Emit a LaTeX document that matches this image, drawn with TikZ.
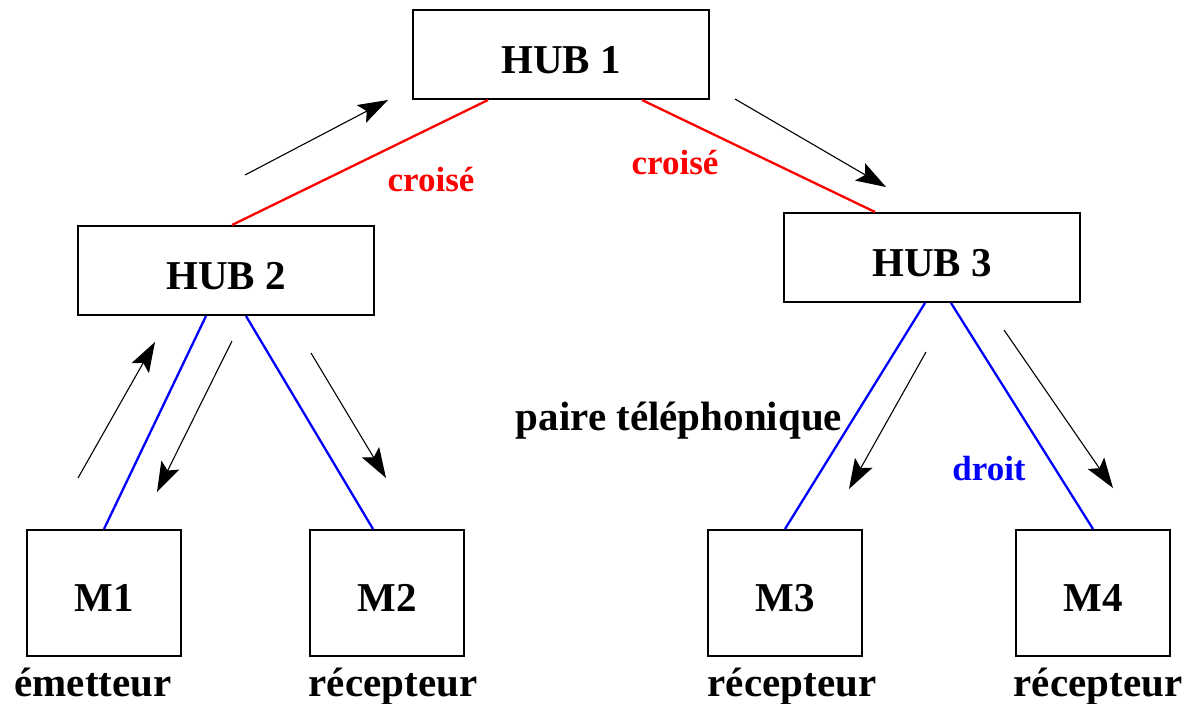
\documentclass[tikz,border=0pt]{standalone}
\usepackage{fontspec}
\setmainfont{Liberation Serif}
\usetikzlibrary{arrows.meta}
\begin{document}
\begin{tikzpicture}[x=1pt,y=-1pt,
  box/.style={draw,line width=2pt,inner sep=0pt,text height=37pt,text depth=0pt,font=\fontsize{41}{41}\selectfont\bfseries},
  hub/.style={box,minimum width=296pt,minimum height=89pt},
  mach/.style={box,minimum width=154pt,minimum height=126pt},
  lbl/.style={inner sep=0pt,anchor=base,font=\fontsize{41}{41}\selectfont\bfseries},
  clbl/.style={font=\fontsize{35}{35}\selectfont\bfseries},
  red/.style={draw={rgb,255:red,255;green,0;blue,0},line width=2.3pt},
  blue/.style={draw={rgb,255:red,0;green,0;blue,255},line width=2.3pt},
  flow/.style={line width=1.1pt,-{Stealth[length=30pt,width=20pt,inset=6pt]}}]
\useasboundingbox (0,0) rectangle (1189,704);
\node[hub] (h1) at (561,54.5) {HUB 1};
\node[hub] (h2) at (226,270.5) {HUB 2};
\node[hub] (h3) at (932,257.5) {HUB 3};
\node[mach] (m1) at (104,593) {M1};
\node[mach] (m2) at (387,593) {M2};
\node[mach] (m3) at (785,593) {M3};
\node[mach] (m4) at (1093,593) {M4};
% links
\draw[red] (h1.south -| 488,0) -- (h2.north -| 232,0);
\draw[red] (h1.south -| 642,0) -- (h3.north -| 875,0);
\draw[blue] (h2.south -| 206,0) -- (m1.north);
\draw[blue] (h2.south -| 246,0) -- (m2.north -| 373,0);
\draw[blue] (h3.south -| 925,0) -- (m3.north);
\draw[blue] (h3.south -| 951,0) -- (m4.north);
% flow arrows
\coordinate (a1s) at (245,175); \coordinate (a1e) at (388,100);
\coordinate (a2s) at (735,99); \coordinate (a2e) at (886,187);
\coordinate (a3s) at (78,478); \coordinate (a3e) at (155,342);
\coordinate (a4s) at (232,341); \coordinate (a4e) at (157,492);
\coordinate (a5s) at (311,353); \coordinate (a5e) at (386,478);
\coordinate (a6s) at (926,352); \coordinate (a6e) at (849,489);
\coordinate (a7s) at (1004,330); \coordinate (a7e) at (1113,488);
\draw[flow] (a1s) -- (a1e);
\draw[flow] (a2s) -- (a2e);
\draw[flow] (a3s) -- (a3e);
\draw[flow] (a4s) -- (a4e);
\draw[flow] (a5s) -- (a5e);
\draw[flow] (a6s) -- (a6e);
\draw[flow] (a7s) -- (a7e);
% labels
\node[clbl,text={rgb,255:red,255;green,0;blue,0}] (c1) at (431,180) {croisé};
\node[clbl,text={rgb,255:red,255;green,0;blue,0}] (c2) at (675,163) {croisé};
\node[clbl,text={rgb,255:red,0;green,0;blue,255}] (d1) at (989,469) {droit};
\node[lbl] (pt) at (679,430) {paire téléphonique};
\node[lbl] (e1) at (93,696) {émetteur};
\node[lbl] (r2) at (393,696) {récepteur};
\node[lbl] (r3) at (792,696) {récepteur};
\node[lbl] (r4) at (1098,696) {récepteur};
\end{tikzpicture}
\end{document}
